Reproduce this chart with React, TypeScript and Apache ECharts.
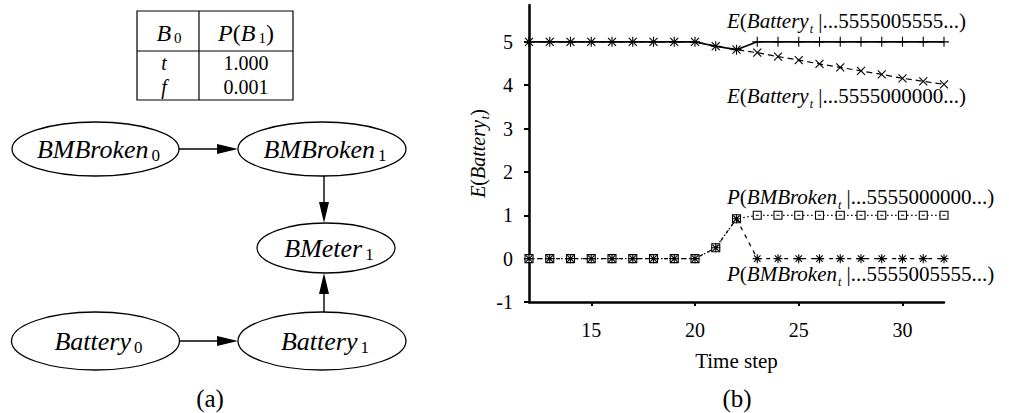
import React, { useEffect, useRef } from 'react';
import * as echarts from 'echarts';

const FONT = 'Liberation Serif';

// ---- data ----
const timeSteps = [12, 13, 14, 15, 16, 17, 18, 19, 20, 21, 22, 23, 24, 25, 26, 27, 28, 29, 30, 31, 32];
const eBattery5555005555 = [5, 5, 5, 5, 5, 5, 5, 5, 5, 4.9, 4.82, 5, 5, 5, 5, 5, 5, 5, 5, 5, 5];
const eBattery5555000000 = [5, 5, 5, 5, 5, 5, 5, 5, 5, 4.9, 4.82, 4.75, 4.66, 4.58, 4.49, 4.41, 4.33, 4.25, 4.16, 4.09, 4.02];
const pBroken5555000000 = [0, 0, 0, 0, 0, 0, 0, 0, 0, 0.25, 0.92, 1, 1, 1, 1, 1, 1, 1, 1, 1, 1];
const pBroken5555005555 = [0, 0, 0, 0, 0, 0, 0, 0, 0, 0.25, 0.92, 0, 0, 0, 0, 0, 0, 0, 0, 0, 0];
const xTicks = [15, 20, 25, 30];
const yTicks = [-1, 0, 1, 2, 3, 4, 5];
const tableRows = [
  ['t', '1.000'],
  ['f', '0.001'],
];

const PLUS = 'path://M0,-1L0,1M-1,0L1,0';
const CROSS = 'path://M-1,-1L1,1M-1,1L1,-1';
const STAR = 'path://M0,-1L0,1M-1,0L1,0M-0.72,-0.72L0.72,0.72M-0.72,0.72L0.72,-0.72';
const SQUARE = 'path://M-1,-1L1,-1L1,1L-1,1Z M-0.4,0L0.4,0';

function rich(size: number, subSize: number, lh: number, subLh: number) {
  return {
    i: { fontFamily: FONT, fontSize: size, fontStyle: 'italic', lineHeight: lh, fill: '#000', color: '#000' },
    n: { fontFamily: FONT, fontSize: size, lineHeight: lh, fill: '#000', color: '#000' },
    s: { fontFamily: FONT, fontSize: subSize, fontStyle: 'italic', lineHeight: subLh, verticalAlign: 'bottom', fill: '#000', color: '#000', padding: [0, 0, 0, 1] },
    d: { fontFamily: FONT, fontSize: subSize, lineHeight: subLh, verticalAlign: 'bottom', fill: '#000', color: '#000', padding: [0, 0, 0, 3] },
  };
}

function richText(x: number, y: number, text: string, r: any, align = 'center') {
  return {
    type: 'text',
    x,
    y,
    silent: true,
    style: { text, rich: r, align, verticalAlign: 'middle', fill: '#000', fontFamily: FONT },
  };
}

function node(cx: number, cy: number, rx: number, ry: number, label: string, sub: string) {
  return [
    {
      type: 'ellipse',
      shape: { cx, cy, rx, ry },
      style: { fill: '#fff', stroke: '#000', lineWidth: 1.3 },
      silent: true,
    },
    richText(cx + 3, cy, `{i|${label}}{d|${sub}}`, rich(26, 17, 30, 6)),
  ];
}

function arrowH(x1: number, x2: number, y: number) {
  return [
    { type: 'line', shape: { x1, y1: y, x2: x2 - 18, y2: y }, style: { stroke: '#000', lineWidth: 1.4 }, silent: true },
    { type: 'polygon', shape: { points: [[x2, y], [x2 - 21, y - 5], [x2 - 21, y + 5]] }, style: { fill: '#000' }, silent: true },
  ];
}

function arrowV(x: number, yFrom: number, yTo: number) {
  const dir = yTo > yFrom ? 1 : -1;
  return [
    { type: 'line', shape: { x1: x, y1: yFrom, x2: x, y2: yTo - dir * 18 }, style: { stroke: '#000', lineWidth: 1.4 }, silent: true },
    { type: 'polygon', shape: { points: [[x, yTo], [x - 5, yTo - dir * 21], [x + 5, yTo - dir * 21]] }, style: { fill: '#000' }, silent: true },
  ];
}

function series(name: string, vals: number[], symbol: string, size: number, lineType: any, lineWidth: number, fill: string, z: number) {
  return {
    type: 'line',
    name,
    data: timeSteps.map((t, i) => [t, vals[i]]),
    symbol,
    symbolSize: size,
    showAllSymbol: true,
    clip: false,
    silent: true,
    z,
    lineStyle: { color: '#000', width: lineWidth, type: lineType },
    itemStyle: { color: fill, borderColor: '#000', borderWidth: 1.1 },
    emphasis: { disabled: true },
  };
}

export default function App() {
  const ref = useRef<HTMLDivElement>(null);
  useEffect(() => {
    const chart = echarts.init(ref.current!, null, { renderer: 'svg' });
    const labelRich = rich(21, 12, 28, 6);
    const tableLines = [
      { type: 'rect', shape: { x: 137, y: 11, width: 156, height: 89 }, style: { fill: 'none', stroke: '#000', lineWidth: 1.2 }, silent: true },
      { type: 'line', shape: { x1: 137, y1: 51, x2: 293, y2: 51 }, style: { stroke: '#000', lineWidth: 1.2 }, silent: true },
      { type: 'line', shape: { x1: 199, y1: 11, x2: 199, y2: 100 }, style: { stroke: '#000', lineWidth: 1.2 }, silent: true },
    ];
    const headerRich = rich(24, 15, 24, 12);
    const bodyRich = rich(20, 14, 20, 10);
    const tableTexts = [
      richText(169, 33, '{i|B}{d|0}', headerRich),
      richText(246, 33, '{i|P}{n|(}{i|B}{d|1}{n|)}', headerRich),
      ...tableRows.flatMap((row, k) => [
        richText(164, 63 + k * 24, `{i|${row[0]}}`, bodyRich),
        richText(246, 63 + k * 24, `{n|${row[1]}}`, bodyRich),
      ]),
    ];
    const option: any = {
      animation: false,
      backgroundColor: '#fff',
      textStyle: { fontFamily: FONT },
      grid: { left: 529, right: 65, top: 5, bottom: 111, containLabel: false },
      xAxis: {
        type: 'value',
        min: 12,
        max: 32,
        name: 'Time step',
        nameLocation: 'middle',
        nameGap: 48,
        nameTextStyle: { fontFamily: FONT, fontSize: 21, color: '#000' },
        axisLine: { show: true, onZero: false, lineStyle: { color: '#000', width: 2.5 } },
        axisTick: { show: true, customValues: xTicks, length: 4, lineStyle: { color: '#000', width: 2 } },
        axisLabel: { customValues: xTicks, fontFamily: FONT, fontSize: 20, color: '#000', margin: 18 },
        splitLine: { show: false },
      },
      yAxis: {
        type: 'value',
        min: -1,
        max: 5.85,
        name: '{i|E}{n|(}{i|Battery}{s|t}{n|)}',
        nameLocation: 'middle',
        nameRotate: 90,
        nameGap: 38,
        nameTextStyle: { fontFamily: FONT, rich: rich(20, 12, 26, 6) },
        axisLine: { show: true, onZero: false, lineStyle: { color: '#000', width: 2.5 } },
        axisTick: { show: true, customValues: yTicks, length: 5, lineStyle: { color: '#000', width: 2 } },
        axisLabel: { customValues: yTicks, fontFamily: FONT, fontSize: 20, color: '#000', margin: 16 },
        splitLine: { show: false },
      },
      series: [
        series('E(Battery | ...5555005555...)', eBattery5555005555, PLUS, 10, 'solid', 1.6, '#000', 4),
        series('E(Battery | ...5555000000...)', eBattery5555000000, CROSS, 8, [6, 4], 1.2, '#000', 3),
        series('P(BMBroken | ...5555000000...)', pBroken5555000000, SQUARE, 8, [1.5, 2.5], 1.2, '#fff', 2),
        series('P(BMBroken | ...5555005555...)', pBroken5555005555, STAR, 9, [4, 5], 1.2, '#000', 3),
      ],
      graphic: [
        ...tableLines,
        ...tableTexts,
        ...arrowH(179, 238, 149),
        ...arrowV(324, 176, 223),
        ...arrowV(324, 312, 273),
        ...arrowH(179, 238, 341),
        ...node(95.5, 149, 83.5, 27, 'BMBroken', '0'),
        ...node(322, 149, 84, 27, 'BMBroken', '1'),
        ...node(326, 248, 69, 25, 'BMeter', '1'),
        ...node(95.5, 341, 84, 29, 'Battery', '0'),
        ...node(322, 341, 84, 29, 'Battery', '1'),
        richText(210, 398, '{n|(a)}', rich(25, 14, 28, 10)),
        richText(737, 398, '{n|(b)}', rich(25, 14, 28, 10)),
        richText(727, 21, '{i|E}{n|(}{i|Battery}{s|t}{n| |...5555005555...)}', labelRich, 'left'),
        richText(727, 96, '{i|E}{n|(}{i|Battery}{s|t}{n| |...5555000000...)}', labelRich, 'left'),
        richText(727, 197, '{i|P}{n|(}{i|BMBroken}{s|t}{n| |...5555000000...)}', labelRich, 'left'),
        richText(727, 274, '{i|P}{n|(}{i|BMBroken}{s|t}{n| |...5555005555...)}', labelRich, 'left'),
      ],
    };
    chart.setOption(option);
    return () => chart.dispose();
  }, []);
  return (
    <div
      ref={ref}
      style={{ position: 'absolute', left: 0, top: 0, width: 1009, height: 413, background: '#fff' }}
    />
  );
}
